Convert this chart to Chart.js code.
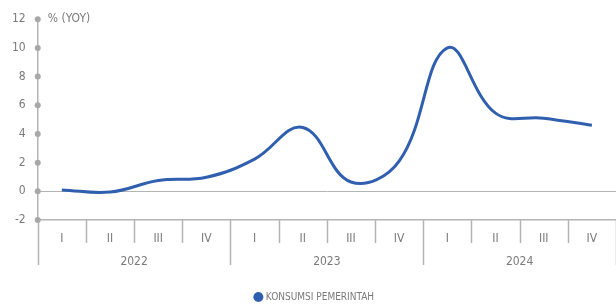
<!DOCTYPE html>
<html>
<head>
<meta charset="utf-8">
<script src="https://cdn.jsdelivr.net/npm/chart.js@4.4.1/dist/chart.umd.min.js"></script>
<style>
  html, body { margin: 0; padding: 0; background: #fff; }
  #wrap { width: 616px; height: 306px; position: relative; }
</style>
</head>
<body>
<div id="wrap"><canvas id="chart"></canvas></div>
<script>
const quarters = ["I", "II", "III", "IV", "I", "II", "III", "IV", "I", "II", "III", "IV"];
const years = ["2022", "2023", "2024"];
const konsumsi = [0.1, -0.05, 0.75, 0.98, 2.25, 4.45, 0.65, 2.1, 10.0, 5.45, 5.1, 4.6];
const yTicks = [-2, 0, 2, 4, 6, 8, 10, 12];

const FONT = "'Liberation Sans Narrow', 'DejaVu Sans Condensed', sans-serif";
const GREY = "#b4b4b4";
const TEXT = "#7a7a7a";
const BLUE = "#2f5fae";

// dots on the y axis, unit label, and the separators under the x axis
const axisDecor = {
    id: "axisDecor",
    afterLayout(chart) {
        // nudge the legend a little to the right, like the original
        chart.legend.left += 14;
    },
    afterDraw(chart) {
        const ctx = chart.ctx;
        const y = chart.scales.y;
        const x = chart.scales.x;
        const bottom = chart.chartArea.bottom;
        ctx.save();

        const step = x.getPixelForValue(1) - x.getPixelForValue(0);
        ctx.strokeStyle = GREY;
        ctx.lineWidth = 1.5;
        for (let i = 0; i <= quarters.length; i++) {
            const px = Math.round(x.getPixelForValue(0) - step / 2 + i * step) + 0.5;
            const end = bottom + (i % 4 === 0 ? 45 : 23);
            ctx.beginPath();
            ctx.moveTo(px, bottom);
            ctx.lineTo(px, end);
            ctx.stroke();
        }

        ctx.fillStyle = "#a8a8a8";
        yTicks.forEach(v => {
            ctx.beginPath();
            ctx.arc(y.right, y.getPixelForValue(v), 3, 0, Math.PI * 2);
            ctx.fill();
        });
        ctx.fillStyle = TEXT;
        ctx.font = "12px " + FONT;
        ctx.textBaseline = "middle";
        ctx.fillText("% (YOY)", y.right + 10, y.getPixelForValue(12));
        ctx.restore();
    }
};

new Chart(document.getElementById("chart"), {
    type: "line",
    data: {
        labels: quarters,
        datasets: [{
            label: "KONSUMSI PEMERINTAH",
            data: konsumsi,
            borderColor: BLUE,
            backgroundColor: BLUE,
            borderWidth: 3,
            tension: 0.4,
            pointRadius: 0,
            pointStyle: "circle"
        }]
    },
    options: {
        responsive: true,
        maintainAspectRatio: false,
        animation: false,
        layout: { padding: { top: 0, right: 0, left: 0, bottom: -6 } },
        scales: {
            y: {
                min: -2,
                max: 12,
                afterBuildTicks: axis => { axis.ticks = yTicks.map(v => ({ value: v })); },
                border: { display: true, color: GREY, width: 1.5 },
                grid: {
                    drawTicks: false,
                    color: c => (c.tick && c.tick.value === 0 ? GREY : "transparent")
                },
                ticks: { color: TEXT, padding: 12, font: { family: FONT, size: 12 } }
            },
            x: {
                position: "bottom",
                offset: true,
                afterFit: s => { s.height = 24; },
                border: { display: true, color: GREY, width: 1.5 },
                grid: { display: false, drawTicks: false },
                ticks: { color: TEXT, padding: 12, maxRotation: 0, autoSkip: false, font: { family: FONT, size: 12 } }
            },
            x2: {
                type: "category",
                labels: years,
                position: "bottom",
                offset: true,
                afterFit: s => { s.height = 48; },
                border: { display: false },
                grid: { display: false, drawTicks: false },
                ticks: { color: TEXT, padding: 11, maxRotation: 0, font: { family: FONT, size: 12 } }
            }
        },
        plugins: {
            legend: {
                position: "bottom",
                labels: {
                    usePointStyle: true,
                    boxWidth: 5,
                    boxHeight: 5,
                    padding: 0,
                    color: TEXT,
                    font: { family: FONT, size: 10 }
                }
            },
            tooltip: { enabled: false }
        }
    },
    plugins: [axisDecor]
});
</script>
</body>
</html>
